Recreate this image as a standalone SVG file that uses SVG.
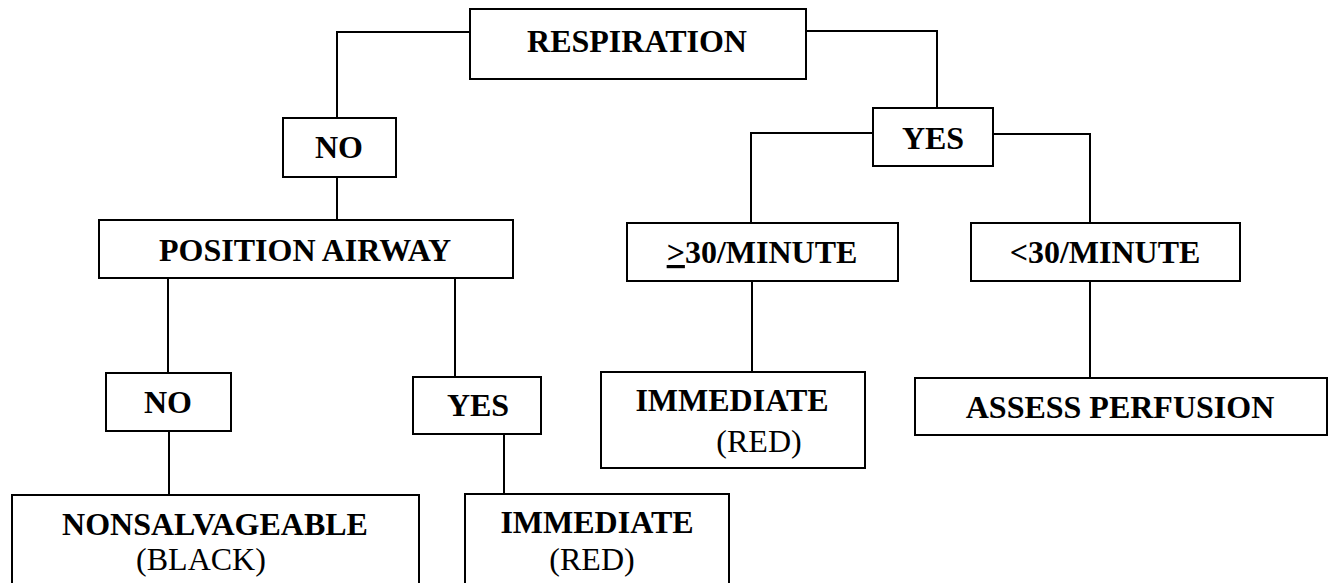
<svg xmlns="http://www.w3.org/2000/svg" width="1330" height="583" viewBox="0 0 1330 583">
<style>
.box{fill:#fff;stroke:#000;stroke-width:2}
.c{fill:none;stroke:#000;stroke-width:2}
.t{font-family:"Liberation Serif","Times New Roman",serif;font-size:32px;font-weight:bold;fill:#000;text-anchor:middle}
.r{font-family:"Liberation Serif","Times New Roman",serif;font-size:32px;font-weight:normal;fill:#000;text-anchor:middle}
</style>
<rect width="1330" height="583" fill="#fff"/>
<g id="connectors">
<polyline class="c" points="470,32 337,32 337,118"/>
<polyline class="c" points="806,31 937,31 937,108"/>
<line class="c" x1="337" y1="177" x2="337" y2="220"/>
<line class="c" x1="168" y1="278" x2="168" y2="373"/>
<line class="c" x1="455" y1="278" x2="455" y2="377"/>
<line class="c" x1="169" y1="431" x2="169" y2="495"/>
<line class="c" x1="504" y1="434" x2="504" y2="494"/>
<polyline class="c" points="873,133 751,133 751,223"/>
<polyline class="c" points="993,134 1090,134 1090,223"/>
<line class="c" x1="752" y1="281" x2="752" y2="378"/>
<line class="c" x1="1090" y1="281" x2="1090" y2="378"/>
</g>
<g id="respiration">
<rect class="box" x="470" y="9" width="336" height="70"/>
<text class="t" x="637" y="52">RESPIRATION</text>
</g>
<g id="no-top">
<rect class="box" x="283" y="118" width="113" height="59"/>
<text class="t" x="339" y="158">NO</text>
</g>
<g id="position-airway">
<rect class="box" x="99" y="220" width="414" height="58"/>
<text class="t" x="305" y="261">POSITION AIRWAY</text>
</g>
<g id="no-bottom">
<rect class="box" x="106" y="373" width="125" height="58"/>
<text class="t" x="168" y="413">NO</text>
</g>
<g id="yes-bottom">
<rect class="box" x="413" y="377" width="128" height="57"/>
<text class="t" x="478" y="416">YES</text>
</g>
<g id="nonsalvageable">
<rect class="box" x="12" y="495" width="407" height="100"/>
<text class="t" x="215" y="535">NONSALVAGEABLE</text>
<text class="r" x="201" y="570">(BLACK)</text>
</g>
<g id="immediate-bottom">
<rect class="box" x="465" y="494" width="264" height="100"/>
<text class="t" x="597" y="533">IMMEDIATE</text>
<text class="r" x="592" y="570">(RED)</text>
</g>
<g id="yes-top">
<rect class="box" x="873" y="108" width="120" height="58"/>
<text class="t" x="933" y="149">YES</text>
</g>
<g id="ge30">
<rect class="box" x="627" y="223" width="271" height="58"/>
<text class="t" x="762" y="263"><tspan text-decoration="underline">&gt;</tspan>30/MINUTE</text>
</g>
<g id="lt30">
<rect class="box" x="971" y="223" width="269" height="58"/>
<text class="t" x="1105" y="263">&lt;30/MINUTE</text>
</g>
<g id="immediate-mid">
<rect class="box" x="601" y="372" width="264" height="96"/>
<text class="t" x="732" y="411">IMMEDIATE</text>
<text class="r" x="759" y="452">(RED)</text>
</g>
<g id="assess-perfusion">
<rect class="box" x="915" y="378" width="412" height="57"/>
<text class="t" x="1120" y="418">ASSESS PERFUSION</text>
</g>
</svg>
